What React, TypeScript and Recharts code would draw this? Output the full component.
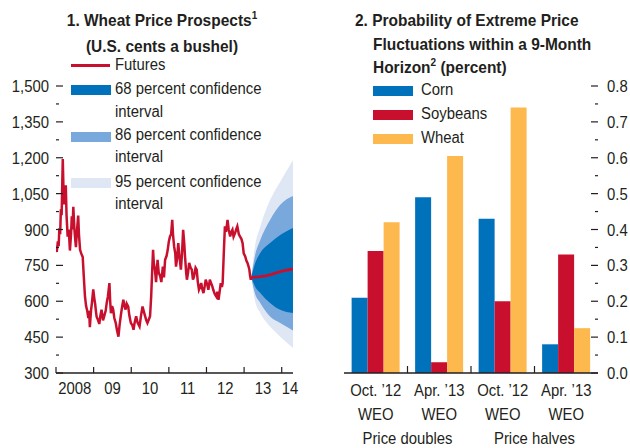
import React from 'react';
import { ComposedChart, BarChart, Bar, Line, Area, XAxis, YAxis } from 'recharts';

const FONT = '"Liberation Sans Narrow", "Arial Narrow", "Liberation Sans", Arial, sans-serif';
const INK = '#231f20';
const RED = '#c8102e';
const BLUE = '#0072bc';
const MID_BLUE = '#78a8dc';
const PALE_BLUE = '#dfe7f4';
const ORANGE = '#fdb94e';
const SQUEEZE = 0.93; // reference face is a condensed grotesque

// panel 1: wheat futures, U.S. cents a bushel (year as decimal)
const wheatHistory: [number, number][] = [
  [2008.0, 820], [2008.02, 806], [2008.05, 850], [2008.07, 830], [2008.09, 905], [2008.11, 880],
  [2008.13, 985], [2008.15, 960], [2008.17, 1120], [2008.18, 1195], [2008.2, 1060], [2008.21, 1005],
  [2008.24, 1060], [2008.26, 1085], [2008.28, 960], [2008.31, 870], [2008.34, 900], [2008.37, 812],
  [2008.4, 880], [2008.42, 955], [2008.44, 900], [2008.46, 995], [2008.49, 900], [2008.51, 860],
  [2008.53, 826], [2008.56, 900], [2008.59, 958], [2008.61, 880], [2008.64, 815], [2008.67, 800],
  [2008.71, 785], [2008.74, 700], [2008.77, 620], [2008.8, 580], [2008.83, 560], [2008.86, 530],
  [2008.88, 560], [2008.9, 492], [2008.93, 560], [2008.96, 600], [2008.99, 650], [2009.02, 610],
  [2009.04, 590], [2009.06, 560], [2009.08, 535], [2009.12, 520], [2009.15, 505], [2009.18, 540],
  [2009.21, 565], [2009.25, 520], [2009.28, 537], [2009.32, 560], [2009.35, 595], [2009.38, 620],
  [2009.42, 676], [2009.44, 600], [2009.46, 550], [2009.49, 580], [2009.52, 565], [2009.55, 530],
  [2009.59, 508], [2009.62, 480], [2009.66, 452], [2009.69, 500], [2009.72, 537], [2009.75, 570],
  [2009.79, 606], [2009.82, 580], [2009.85, 565], [2009.88, 590], [2009.92, 578], [2009.95, 540],
  [2009.99, 509], [2010.03, 500], [2010.06, 481], [2010.09, 510], [2010.13, 537], [2010.17, 510],
  [2010.22, 495], [2010.26, 540], [2010.3, 578], [2010.33, 560], [2010.37, 537], [2010.4, 520],
  [2010.43, 509], [2010.47, 525], [2010.5, 537], [2010.53, 620], [2010.55, 700], [2010.58, 815],
  [2010.6, 760], [2010.63, 732], [2010.66, 680], [2010.7, 773], [2010.73, 720], [2010.77, 704],
  [2010.8, 680], [2010.84, 745], [2010.87, 700], [2010.9, 773], [2010.94, 790], [2010.97, 815],
  [2011.0, 850], [2011.03, 871], [2011.06, 880], [2011.09, 940], [2011.11, 880], [2011.14, 829],
  [2011.17, 800], [2011.19, 745], [2011.22, 780], [2011.25, 843], [2011.28, 790], [2011.32, 732],
  [2011.35, 800], [2011.38, 899], [2011.41, 840], [2011.43, 787], [2011.46, 720], [2011.48, 690],
  [2011.51, 720], [2011.54, 760], [2011.58, 740], [2011.61, 732], [2011.64, 690], [2011.67, 704],
  [2011.71, 740], [2011.74, 732], [2011.77, 680], [2011.8, 648], [2011.83, 660], [2011.86, 676],
  [2011.89, 650], [2011.92, 634], [2011.95, 660], [2011.98, 690], [2012.02, 670], [2012.05, 648],
  [2012.09, 690], [2012.12, 676], [2012.15, 665], [2012.18, 648], [2012.22, 630], [2012.26, 620],
  [2012.29, 640], [2012.32, 606], [2012.35, 640], [2012.38, 676], [2012.41, 660], [2012.43, 676],
  [2012.46, 800], [2012.49, 913], [2012.52, 890], [2012.56, 940], [2012.59, 900], [2012.63, 871],
  [2012.66, 890], [2012.69, 899], [2012.72, 870], [2012.76, 885], [2012.79, 900], [2012.82, 913],
  [2012.86, 880], [2012.89, 871], [2012.93, 860], [2012.96, 843], [2012.99, 800], [2013.03, 787],
  [2013.06, 770], [2013.09, 760], [2013.12, 745], [2013.14, 732], [2013.16, 705], [2013.18, 690],
  [2013.19, 700],
];

const forecastYears = [2013.19, 2013.29, 2013.43, 2013.69, 2013.96, 2014.3];
const futures = [700, 701, 703, 710, 724, 735];
const band68 = [[700, 700], [662, 758], [635, 802], [593, 844], [564, 877], [551, 906]];
const band86 = [[700, 700], [632, 790], [593, 856], [536, 940], [509, 1003], [478, 1040]];
const band95 = [[700, 700], [602, 830], [551, 912], [494, 1023], [452, 1100], [405, 1190]];

const priceTicks = [300, 375, 450, 525, 600, 675, 750, 825, 900, 975, 1050, 1125, 1200, 1275, 1350, 1425, 1500];
const yearTicks = [2008, 2009, 2010, 2011, 2012, 2013, 2014];
const yearLabelAt = [2008.5, 2009.5, 2010.5, 2011.5, 2012.5, 2013.5, 2014.22];
const yearLabels = ['2008', '09', '10', '11', '12', '13', '14'];

// panel 2: probability of extreme price moves
const periods = ['Oct. \u201912', 'Apr. \u201913', 'Oct. \u201912', 'Apr. \u201913'];
const corn = [0.21, 0.49, 0.43, 0.08];
const soybeans = [0.34, 0.03, 0.2, 0.33];
const wheat = [0.42, 0.605, 0.74, 0.125];
const scenarios = ['Price doubles', 'Price halves'];
const probTicks = [0, 0.05, 0.1, 0.15, 0.2, 0.25, 0.3, 0.35, 0.4, 0.45, 0.5, 0.55, 0.6, 0.65, 0.7, 0.75, 0.8];

const histData = wheatHistory.map(([year, price]) => ({ year, price }));
const fanData = forecastYears.map((year, i) => ({
  year,
  fut: futures[i],
  b68: band68[i],
  b86: band86[i],
  b95: band95[i],
}));
const barData = periods.map((period, i) => ({ period, corn: corn[i], soybeans: soybeans[i], wheat: wheat[i] }));

// svg text squeezed horizontally around its anchor point
const SText = ({ x, y, anchor, children }: any) => (
  <text
    transform={`translate(${x},${y}) scale(${SQUEEZE},1)`}
    textAnchor={anchor}
    fontFamily={FONT}
    fontSize={16}
    fill={INK}
  >
    {children}
  </text>
);

const priceTickLeft = (p: any) => {
  const major = p.payload.value % 150 === 0;
  return (
    <g>
      <line x1={p.x} x2={p.x + (major ? 7 : 3)} y1={p.y} y2={p.y} stroke={INK} strokeWidth={1.2} />
      {major && (
        <SText x={p.x - 7} y={p.y + 6} anchor="end">
          {p.payload.value.toLocaleString('en-US')}
        </SText>
      )}
    </g>
  );
};

const priceTickRight = (p: any) => {
  const major = p.payload.value % 150 === 0;
  return <line x1={p.x} x2={p.x - (major ? 7 : 3)} y1={p.y} y2={p.y} stroke={INK} strokeWidth={1.2} />;
};

const yearTick = (p: any) => {
  const v = p.payload.value;
  const k = yearLabelAt.indexOf(v);
  if (k >= 0) {
    return (
      <SText x={p.x} y={p.y + 21} anchor="middle">
        {yearLabels[k]}
      </SText>
    );
  }
  return <line x1={p.x} x2={p.x} y1={p.y} y2={p.y - 6} stroke={INK} strokeWidth={1.2} />;
};

const isMajorProb = (v: number) => Math.round(v * 100) % 10 === 0;

const probTickLeft = (p: any) => (
  <line x1={p.x} x2={p.x + (isMajorProb(p.payload.value) ? 7 : 3)} y1={p.y} y2={p.y} stroke={INK} strokeWidth={1.2} />
);

const probTickRight = (p: any) => {
  const major = isMajorProb(p.payload.value);
  return (
    <g>
      <line x1={p.x} x2={p.x - (major ? 7 : 3)} y1={p.y} y2={p.y} stroke={INK} strokeWidth={1.2} />
      {major && (
        <SText x={p.x + 9} y={p.y + 6} anchor="start">
          {p.payload.value.toFixed(1)}
        </SText>
      )}
    </g>
  );
};

const periodTick = (p: any) => {
  const half = p.payload.offset || p.width / p.visibleTicksCount / 2;
  const i = p.index;
  return (
    <g>
      {i < periods.length - 1 && (
        <line x1={p.x + half} x2={p.x + half} y1={p.y} y2={p.y - 7} stroke={INK} strokeWidth={1.2} />
      )}
      <SText x={p.x} y={p.y + 23} anchor="middle">{p.payload.value}</SText>
      <SText x={p.x} y={p.y + 47} anchor="middle">WEO</SText>
      {i % 2 === 0 && (
        <SText x={p.x + half} y={p.y + 71} anchor="middle">
          {scenarios[i / 2]}
        </SText>
      )}
    </g>
  );
};

const abs = (left: number, top: number, extra: React.CSSProperties = {}): React.CSSProperties => ({
  position: 'absolute',
  left,
  top,
  whiteSpace: 'nowrap',
  ...extra,
});

const Swatch = ({ left, top, color }: { left: number; top: number; color: string }) => (
  <div style={abs(left, top, { width: 40, height: 10, background: color })} />
);

const Txt = ({ left, cy, children, bold, center }: any) => (
  <div
    style={abs(left, cy - 11, {
      lineHeight: '22px',
      fontSize: bold ? 17 : 16,
      fontWeight: bold ? 700 : 400,
      transform: `scaleX(${bold ? 0.91 : SQUEEZE})`,
      transformOrigin: center ? '50% 50%' : '0 50%',
      ...(center ? { width: 300, marginLeft: -150, textAlign: 'center' } : {}),
    })}
  >
    {children}
  </div>
);

const Sup = ({ children }: any) => <sup style={{ fontSize: 11, lineHeight: 0 }}>{children}</sup>;

export default function App() {
  return (
    <div
      style={{
        position: 'absolute',
        left: 0,
        top: 0,
        width: 630,
        height: 448,
        background: '#fff',
        fontFamily: FONT,
        color: INK,
        overflow: 'hidden',
      }}
    >
      <div style={abs(0, 0)}>
        <ComposedChart width={315} height={448} margin={{ top: 86, right: 0, bottom: 0, left: 0 }}>
          <XAxis
            type="number"
            dataKey="year"
            domain={[2008, 2014.3]}
            ticks={[...yearTicks, ...yearLabelAt]}
            interval={0}
            allowDataOverflow
            height={75}
            tickSize={0}
            tickMargin={0}
            tickLine={false}
            tick={yearTick}
            axisLine={{ stroke: INK, strokeWidth: 1.3 }}
          />
          <YAxis
            yAxisId="l"
            type="number"
            domain={[300, 1500]}
            ticks={priceTicks}
            interval={0}
            width={56}
            tickSize={0}
            tickMargin={0}
            tickLine={false}
            axisLine={false}
            tick={priceTickLeft}
          />
          <YAxis
            yAxisId="r"
            orientation="right"
            type="number"
            domain={[300, 1500]}
            ticks={priceTicks}
            interval={0}
            width={22}
            tickSize={0}
            tickMargin={0}
            tickLine={false}
            axisLine={false}
            tick={priceTickRight}
          />
          <Area yAxisId="l" data={fanData} dataKey="b95" type="monotone" stroke="none" fill={PALE_BLUE} fillOpacity={1} isAnimationActive={false} />
          <Area yAxisId="l" data={fanData} dataKey="b86" type="monotone" stroke="none" fill={MID_BLUE} fillOpacity={1} isAnimationActive={false} />
          <Area yAxisId="l" data={fanData} dataKey="b68" type="monotone" stroke="none" fill={BLUE} fillOpacity={1} isAnimationActive={false} />
          <Line yAxisId="l" data={histData} dataKey="price" type="linear" stroke={RED} strokeWidth={2.5} dot={false} isAnimationActive={false} />
          <Line yAxisId="l" data={fanData} dataKey="fut" type="monotone" stroke={RED} strokeWidth={2.8} dot={false} isAnimationActive={false} />
        </ComposedChart>
      </div>

      <div style={abs(315, 0)}>
        <BarChart
          width={315}
          height={448}
          data={barData}
          margin={{ top: 86, right: 0, bottom: 0, left: 0 }}
          barCategoryGap="12%"
          barGap={0}
        >
          <XAxis
            dataKey="period"
            interval={0}
            height={75}
            tickSize={0}
            tickMargin={0}
            tickLine={false}
            tick={periodTick}
            axisLine={{ stroke: INK, strokeWidth: 1.3 }}
          />
          <YAxis
            yAxisId="l"
            domain={[0, 0.8]}
            ticks={probTicks}
            interval={0}
            width={29}
            tickSize={0}
            tickMargin={0}
            tickLine={false}
            axisLine={false}
            tick={probTickLeft}
          />
          <YAxis
            yAxisId="r"
            orientation="right"
            domain={[0, 0.8]}
            ticks={probTicks}
            interval={0}
            width={32}
            tickSize={0}
            tickMargin={0}
            tickLine={false}
            axisLine={false}
            tick={probTickRight}
          />
          <Bar yAxisId="r" dataKey="corn" fill={BLUE} isAnimationActive={false} />
          <Bar yAxisId="r" dataKey="soybeans" fill={RED} isAnimationActive={false} />
          <Bar yAxisId="r" dataKey="wheat" fill={ORANGE} isAnimationActive={false} />
        </BarChart>
      </div>

      {/* panel 1 title and legend */}
      <Txt left={162} cy={21} bold center>
        1. Wheat Price Prospects<Sup>1</Sup>
      </Txt>
      <Txt left={162} cy={47} bold center>(U.S. cents a bushel)</Txt>
      <div style={abs(71, 64, { width: 39, height: 2.5, background: RED })} />
      <Txt left={115} cy={65}>Futures</Txt>
      <Swatch left={71} top={85} color={BLUE} />
      <Txt left={115} cy={89}>68 percent confidence</Txt>
      <Txt left={115} cy={112}>interval</Txt>
      <Swatch left={71} top={132} color={MID_BLUE} />
      <Txt left={115} cy={135}>86 percent confidence</Txt>
      <Txt left={115} cy={157}>interval</Txt>
      <Swatch left={71} top={178} color={PALE_BLUE} />
      <Txt left={115} cy={182}>95 percent confidence</Txt>
      <Txt left={115} cy={204}>interval</Txt>

      {/* panel 2 title and legend */}
      <Txt left={355} cy={21} bold>2. Probability of Extreme Price</Txt>
      <Txt left={373} cy={45} bold>Fluctuations within a 9-Month</Txt>
      <Txt left={373} cy={68} bold>
        Horizon<Sup>2</Sup> (percent)
      </Txt>
      <Swatch left={373} top={86} color={BLUE} />
      <Txt left={421} cy={90}>Corn</Txt>
      <Swatch left={373} top={110} color={RED} />
      <Txt left={421} cy={114}>Soybeans</Txt>
      <Swatch left={373} top={134} color={ORANGE} />
      <Txt left={421} cy={138}>Wheat</Txt>
    </div>
  );
}
